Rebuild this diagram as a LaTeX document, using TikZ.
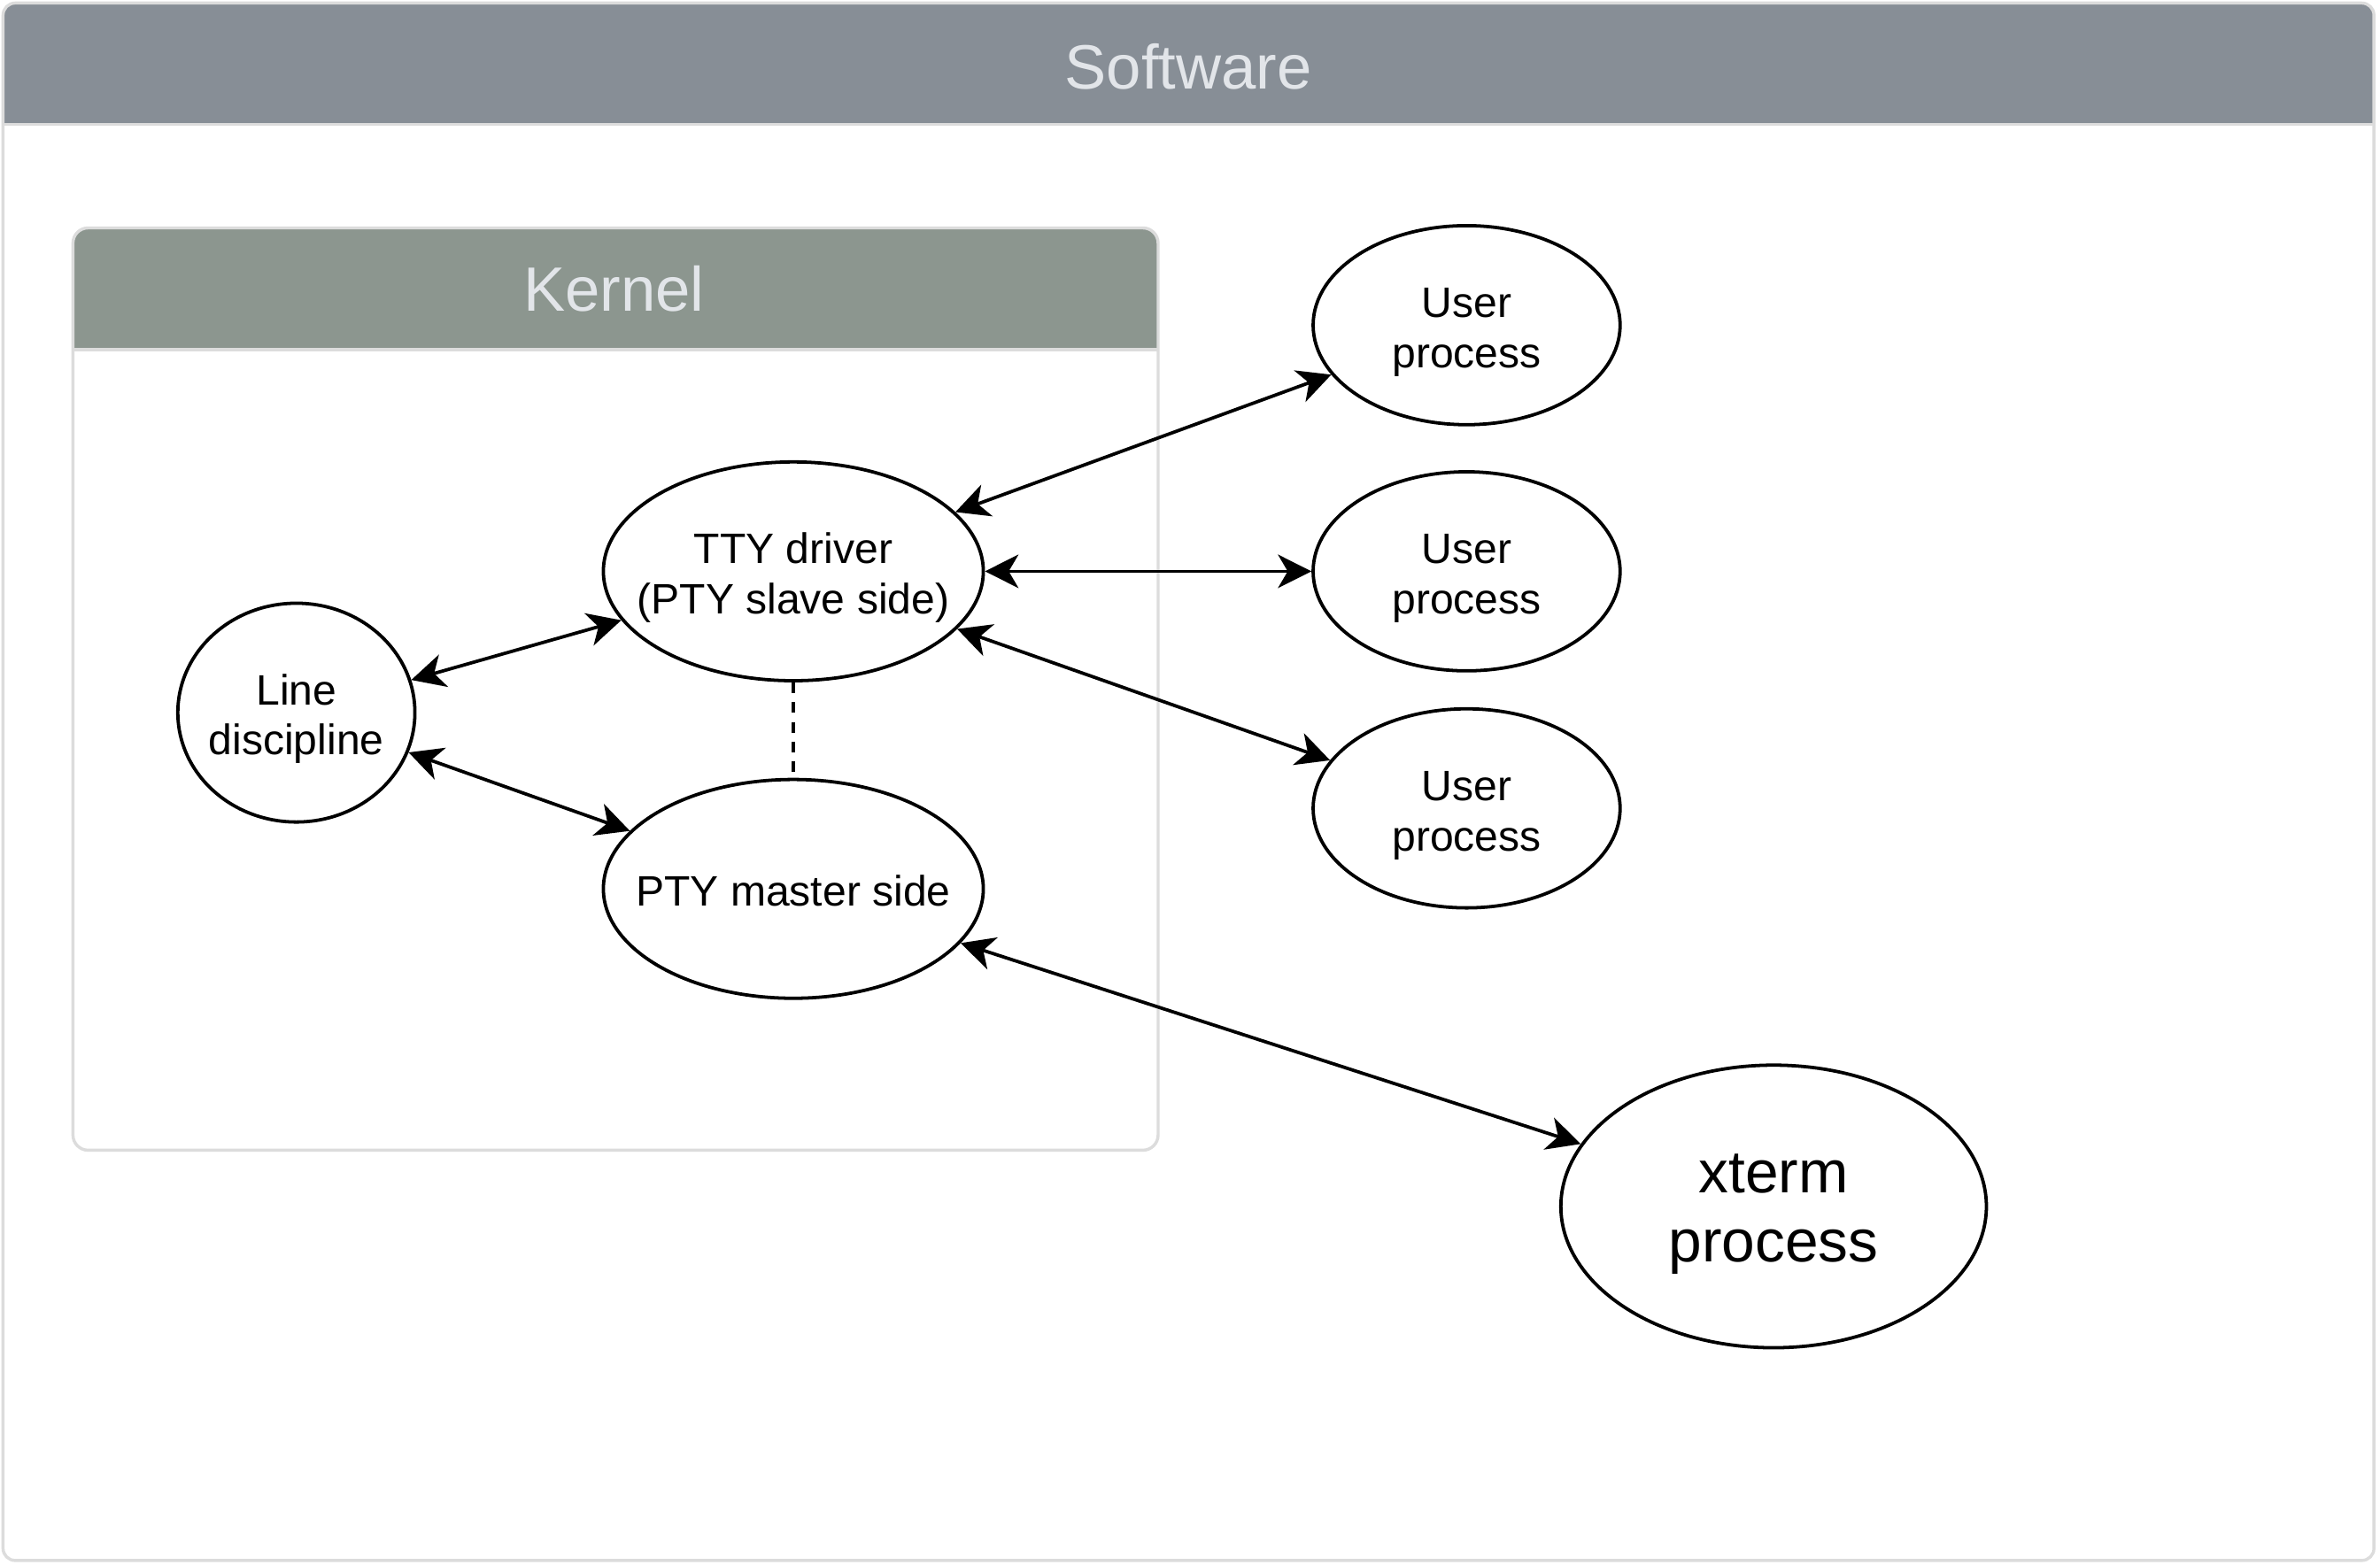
\documentclass[tikz,border=0pt]{standalone}
\usepackage{fontspec}
\setmainfont{Liberation Sans}
\usetikzlibrary{arrows.meta,shapes.geometric}
\definecolor{swhead}{HTML}{878E96}
\definecolor{knhead}{HTML}{8C968F}
\definecolor{headtext}{HTML}{E2E5E9}
\definecolor{frame}{HTML}{DCDCDC}
\newcommand{\mylines}[1]{\makebox[0pt]{\raisebox{\dimexpr(\depth-\height)/2-2.4pt\relax}[0pt][0pt]{\begin{tabular}{@{}c@{}}#1\end{tabular}}}}
\begin{document}
\begin{tikzpicture}[x=0.5pt,y=-0.5pt,
  proc/.style={ellipse, draw=black, line width=1.1pt, fill=white, inner sep=0pt,
    font=\fontsize{14}{16.5}\selectfont},
  bigproc/.style={proc, font=\fontsize{19.7}{22.5}\selectfont},
  link/.style={line width=1.1pt, {Stealth[length=11pt,width=11pt,inset=3.2pt]}-{Stealth[length=11pt,width=11pt,inset=3.2pt]}},
  dashlink/.style={line width=0.9pt, dash pattern=on 3.5pt off 3pt},
  title/.style={text=headtext, inner sep=0pt, font=\fontsize{20.6}{24}\selectfont},
  framed/.style={draw=frame, line width=1pt}]
\useasboundingbox (0,0) rectangle (1566,1030);
\fill[white] (0,0) rectangle (1566,1030);
% Software container
\begin{scope}
  \clip[rounded corners=4pt] (2,2) rectangle (1562,1027);
  \fill[swhead] (2,2) rectangle (1562,82);
\end{scope}
\draw[framed] (2,82) -- (1562,82);
\draw[framed, rounded corners=4pt] (2,2) rectangle (1562,1027);
\node[title] (sw) at (782,44) {Software};
% Kernel container
\begin{scope}
  \clip[rounded corners=5pt] (48,150) rectangle (762,757);
  \fill[knhead] (48,150) rectangle (762,230);
\end{scope}
\draw[framed] (48,230) -- (762,230);
\draw[framed, rounded corners=5pt] (48,150) rectangle (762,757);
\node[title] (kn) at (404,190) {Kernel};
% processes
\node[proc, minimum width=78pt, minimum height=72pt] (ld) at (195,469) {\mylines{Line\\discipline}};
\node[proc, minimum width=125pt, minimum height=72pt] (tty) at (522,376) {\mylines{TTY driver\\(PTY slave side)}};
\node[proc, minimum width=125pt, minimum height=72pt] (pty) at (522,585) {\mylines{PTY master side}};
\node[proc, minimum width=101pt, minimum height=65.5pt] (u1) at (965,214) {\mylines{User\\process}};
\node[proc, minimum width=101pt, minimum height=65.5pt] (u2) at (965,376) {\mylines{User\\process}};
\node[proc, minimum width=101pt, minimum height=65.5pt] (u3) at (965,532) {\mylines{User\\process}};
\node[bigproc, minimum width=140pt, minimum height=93pt] (xt) at (1167,794) {\mylines{xterm\\process}};
% connectors
\draw[link] (tty) -- (u1);
\draw[link] (tty) -- (u2);
\draw[link] (tty) -- (u3);
\draw[link] (ld) -- (tty);
\draw[link] (ld) -- (pty);
\draw[link] (pty) -- (xt);
\draw[dashlink] (tty.south) -- (pty.north);
\end{tikzpicture}
\end{document}
